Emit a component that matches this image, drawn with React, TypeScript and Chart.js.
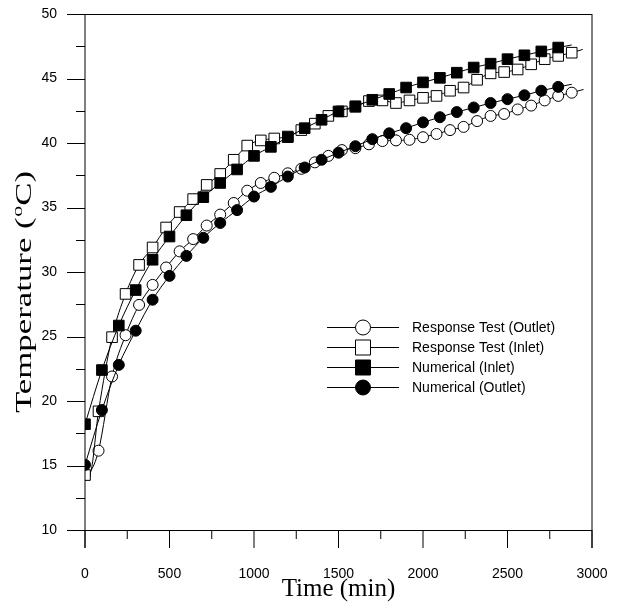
import React, { useEffect, useRef } from 'react';
import { Chart, registerables } from 'chart.js';

Chart.register(...registerables);

// ---------- data ----------
// Response Test (Outlet) – open circles
const RT_OUT_TIME = [0, 80, 160, 240, 320, 400, 480, 560, 640, 720, 800, 880, 960, 1040, 1120, 1200, 1280, 1360, 1440, 1520, 1600, 1680, 1760, 1840, 1920, 2000, 2080, 2160, 2240, 2320, 2400, 2480, 2560, 2640, 2720, 2800, 2880];
const RT_OUT_TEMP = [14.3, 16.15, 21.9, 25.1, 27.45, 29.0, 30.35, 31.6, 32.55, 33.6, 34.45, 35.35, 36.3, 36.9, 37.3, 37.65, 38.0, 38.5, 39.0, 39.45, 39.6, 39.9, 40.15, 40.2, 40.25, 40.45, 40.7, 41.0, 41.25, 41.7, 42.1, 42.25, 42.6, 42.9, 43.3, 43.65, 43.9];
const RT_OUT_LINE_TIME = [30, 2950];
const RT_OUT_LINE_TEMP = [14.5, 44.15];

// Response Test (Inlet) – open squares
const RT_IN_TIME = [0, 80, 160, 240, 320, 400, 480, 560, 640, 720, 800, 880, 960, 1040, 1120, 1200, 1280, 1360, 1440, 1520, 1600, 1680, 1760, 1840, 1920, 2000, 2080, 2160, 2240, 2320, 2400, 2480, 2560, 2640, 2720, 2800, 2880];
const RT_IN_TEMP = [14.26, 19.2, 24.95, 28.3, 30.55, 31.9, 33.45, 34.65, 35.65, 36.75, 37.6, 38.7, 39.8, 40.2, 40.35, 40.5, 41.0, 41.5, 42.1, 42.45, 42.8, 43.25, 43.3, 43.1, 43.3, 43.5, 43.65, 44.05, 44.3, 44.9, 45.4, 45.5, 45.7, 46.1, 46.5, 46.75, 47.0];
const RT_IN_LINE_TIME = [30, 2945];
const RT_IN_LINE_TEMP = [14.4, 47.25];

// Numerical (Inlet) – filled squares
const NUM_IN_TIME = [0, 100, 200, 300, 400, 500, 600, 700, 800, 900, 1000, 1100, 1200, 1300, 1400, 1500, 1600, 1700, 1800, 1900, 2000, 2100, 2200, 2300, 2400, 2500, 2600, 2700, 2800];
const NUM_IN_TEMP = [18.2, 22.4, 25.85, 28.6, 30.95, 32.75, 34.4, 35.8, 36.9, 37.95, 39.0, 39.7, 40.45, 41.15, 41.8, 42.45, 42.85, 43.35, 43.8, 44.3, 44.7, 45.05, 45.45, 45.85, 46.15, 46.5, 46.8, 47.1, 47.4];
const NUM_IN_LINE_TIME = [2880];
const NUM_IN_LINE_TEMP = [47.6];

// Numerical (Outlet) – filled circles
const NUM_OUT_TIME = [0, 100, 200, 300, 400, 500, 600, 700, 800, 900, 1000, 1100, 1200, 1300, 1400, 1500, 1600, 1700, 1800, 1900, 2000, 2100, 2200, 2300, 2400, 2500, 2600, 2700, 2800];
const NUM_OUT_TEMP = [15.05, 19.3, 22.8, 25.45, 27.85, 29.7, 31.25, 32.65, 33.8, 34.8, 35.85, 36.6, 37.4, 38.1, 38.7, 39.25, 39.75, 40.3, 40.75, 41.15, 41.6, 42.0, 42.4, 42.75, 43.1, 43.4, 43.7, 44.05, 44.35];
const NUM_OUT_LINE_TIME = [2880];
const NUM_OUT_LINE_TEMP = [44.55];

const LEGEND_LABELS = ['Response Test (Outlet)', 'Response Test (Inlet)', 'Numerical (Inlet)', 'Numerical (Outlet)'];
const X_MIN = 0, X_MAX = 3000, X_STEP = 500;
const Y_MIN = 10, Y_MAX = 50, Y_STEP = 5;
const X_TITLE = 'Time (min)';
const Y_TITLE_MAIN = 'Temperature (';
const Y_TITLE_SUP = 'o';
const Y_TITLE_END = 'C)';

// ---------- helpers ----------
const SANS = "'Liberation Sans', Arial, sans-serif";
const SERIF = "'Liberation Serif', 'Times New Roman', serif";

type Pt = { x: number; y: number; m: boolean };
function buildSeries(t: number[], v: number[], lt: number[], lv: number[]): Pt[] {
  const pts: Pt[] = [];
  t.forEach((x, i) => pts.push({ x, y: v[i], m: true }));
  lt.forEach((x, i) => pts.push({ x, y: lv[i], m: false }));
  pts.sort((a, b) => a.x - b.x);
  return pts;
}

function makeDataset(label: string, pts: Pt[], style: 'circle' | 'rect', filled: boolean) {
  const r = style === 'circle' ? 5.5 : 7.5;
  return {
    label,
    data: pts.map((p) => ({ x: p.x, y: p.y })),
    borderColor: '#000',
    borderWidth: 1,
    pointStyle: style,
    pointRadius: pts.map((p) => (p.m ? r : 0)),
    pointHoverRadius: pts.map((p) => (p.m ? r : 0)),
    pointBorderColor: '#000',
    pointBorderWidth: 1,
    pointBackgroundColor: filled ? '#000' : '#fff',
    backgroundColor: filled ? '#000' : '#fff',
    cubicInterpolationMode: 'monotone' as const,
    fill: false,
  };
}

const decorPlugin = {
  id: 'decor',
  afterDraw(chart: any) {
    const ctx: CanvasRenderingContext2D = chart.ctx;
    const xs = chart.scales.x;
    const ys = chart.scales.y;
    const L = xs.getPixelForValue(X_MIN);
    const R = xs.getPixelForValue(X_MAX);
    const T = ys.getPixelForValue(Y_MAX);
    const B = ys.getPixelForValue(Y_MIN);
    const MAJ = 18, MIN = 9;
    ctx.save();
    ctx.strokeStyle = '#000';
    ctx.lineWidth = 1;
    ctx.beginPath();
    ctx.moveTo(L, Math.round(T) + 0.5); ctx.lineTo(R, Math.round(T) + 0.5);
    ctx.moveTo(L, Math.round(B) + 0.5); ctx.lineTo(R, Math.round(B) + 0.5);
    ctx.moveTo(L, T); ctx.lineTo(L, B + MAJ);
    ctx.moveTo(R, T); ctx.lineTo(R, B + MAJ);
    for (let v = Y_MIN; v <= Y_MAX + 1e-9; v += Y_STEP / 2) {
      const y = Math.round(ys.getPixelForValue(v)) + 0.5;
      const major = Math.abs(v / Y_STEP - Math.round(v / Y_STEP)) < 1e-6;
      ctx.moveTo(L - (major ? MAJ : MIN), y); ctx.lineTo(L, y);
    }
    for (let t = X_MIN; t <= X_MAX + 1e-9; t += X_STEP / 2) {
      const x = xs.getPixelForValue(t);
      const major = Math.abs(t / X_STEP - Math.round(t / X_STEP)) < 1e-6;
      ctx.moveTo(x, B); ctx.lineTo(x, B + (major ? MAJ : MIN));
    }
    ctx.stroke();

    // x title
    ctx.fillStyle = '#000';
    ctx.font = `25px ${SERIF}`;
    ctx.textAlign = 'center';
    ctx.textBaseline = 'alphabetic';
    ctx.fillText(X_TITLE, (L + R) / 2, 596);

    // y title (rotated, stretched along reading direction)
    ctx.save();
    ctx.translate(31, 413);
    ctx.rotate(-Math.PI / 2);
    ctx.scale(1.45, 1);
    ctx.textAlign = 'left';
    ctx.font = `24px ${SERIF}`;
    ctx.fillText(Y_TITLE_MAIN, 0, 0);
    let w = ctx.measureText(Y_TITLE_MAIN).width;
    ctx.font = `15px ${SERIF}`;
    ctx.fillText(Y_TITLE_SUP, w + 0.5, -9);
    w += ctx.measureText(Y_TITLE_SUP).width + 0.5;
    ctx.font = `24px ${SERIF}`;
    ctx.fillText(Y_TITLE_END, w, 0);
    ctx.restore();

    // legend
    const rows = [327, 347, 367, 387];
    const styles: Array<['circle' | 'rect', boolean]> = [['circle', false], ['rect', false], ['rect', true], ['circle', true]];
    ctx.font = `14px ${SANS}`;
    ctx.textAlign = 'left';
    ctx.textBaseline = 'middle';
    rows.forEach((y, i) => {
      const yy = y + 0.5;
      ctx.beginPath();
      ctx.moveTo(327, yy); ctx.lineTo(399, yy);
      ctx.stroke();
      const [st, filled] = styles[i];
      ctx.beginPath();
      if (st === 'circle') ctx.arc(363, yy, 7.5, 0, Math.PI * 2);
      else ctx.rect(355.5, yy - 7.5, 15, 15);
      ctx.fillStyle = filled ? '#000' : '#fff';
      ctx.fill();
      ctx.stroke();
      ctx.fillStyle = '#000';
      ctx.fillText(LEGEND_LABELS[i], 412, yy + 0.5);
    });
    ctx.restore();
  },
};

export default function App() {
  const ref = useRef<HTMLCanvasElement | null>(null);
  useEffect(() => {
    if (!ref.current) return;
    const rtOut = buildSeries(RT_OUT_TIME, RT_OUT_TEMP, RT_OUT_LINE_TIME, RT_OUT_LINE_TEMP);
    const rtIn = buildSeries(RT_IN_TIME, RT_IN_TEMP, RT_IN_LINE_TIME, RT_IN_LINE_TEMP);
    const numIn = buildSeries(NUM_IN_TIME, NUM_IN_TEMP, NUM_IN_LINE_TIME, NUM_IN_LINE_TEMP);
    const numOut = buildSeries(NUM_OUT_TIME, NUM_OUT_TEMP, NUM_OUT_LINE_TIME, NUM_OUT_LINE_TEMP);
    const datasets = [
      makeDataset(LEGEND_LABELS[3], numOut, 'circle', true),
      makeDataset(LEGEND_LABELS[2], numIn, 'rect', true),
      makeDataset(LEGEND_LABELS[1], rtIn, 'rect', false),
      makeDataset(LEGEND_LABELS[0], rtOut, 'circle', false),
    ];
    const chart = new Chart(ref.current, {
      type: 'line',
      data: { datasets: datasets as any },
      options: {
        animation: false,
        responsive: false,
        devicePixelRatio: 1,
        events: [],
        layout: { padding: { left: 0, top: 14, right: 30, bottom: 0 } },
        plugins: { legend: { display: false }, tooltip: { enabled: false }, title: { display: false } },
        scales: {
          x: {
            type: 'linear',
            min: X_MIN,
            max: X_MAX,
            afterFit: (s: any) => { s.height = 73; s.paddingLeft = 0; s.paddingRight = 0; s.paddingTop = 0; s.paddingBottom = 0; },
            border: { display: false },
            grid: { display: true, drawOnChartArea: false, drawTicks: true, tickLength: 18, tickColor: 'rgba(0,0,0,0)' },
            ticks: { stepSize: X_STEP, autoSkip: false, maxRotation: 0, padding: 18, color: '#000', font: { family: SANS, size: 14 }, callback: (v: any) => String(v) },
          },
          y: {
            type: 'linear',
            min: Y_MIN,
            max: Y_MAX,
            afterFit: (s: any) => { s.width = 85; s.paddingLeft = 0; s.paddingRight = 0; s.paddingTop = 0; s.paddingBottom = 0; },
            border: { display: false },
            grid: { display: true, drawOnChartArea: false, drawTicks: true, tickLength: 18, tickColor: 'rgba(0,0,0,0)' },
            ticks: { stepSize: Y_STEP, padding: 10, color: '#000', font: { family: SANS, size: 14 }, callback: (v: any) => String(v) },
          },
        },
      },
      plugins: [decorPlugin],
    });
    return () => chart.destroy();
  }, []);
  return (
    <canvas
      ref={ref}
      width={622}
      height={603}
      style={{ position: 'absolute', left: 0, top: 0, width: 622, height: 603, display: 'block' }}
    />
  );
}
